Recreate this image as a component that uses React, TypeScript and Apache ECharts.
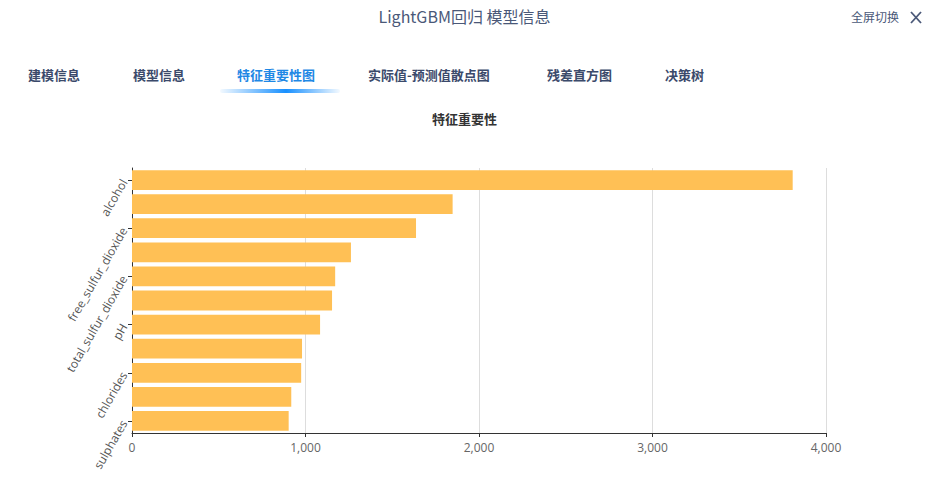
import React, { useEffect, useRef } from "react";
import * as echarts from "echarts";

// bottom-to-top order (category axis starts at bottom)
const features = [
  "sulphates",
  "citric_acid",
  "chlorides",
  "fixed_acidity",
  "pH",
  "density",
  "total_sulfur_dioxide",
  "residual_sugar",
  "free_sulfur_dioxide",
  "volatile_acidity",
  "alcohol",
];
const importance = [903, 918, 975, 980, 1084, 1153, 1171, 1262, 1637, 1848, 3808];

const tabs = ["建模信息", "模型信息", "特征重要性图", "实际值-预测值散点图", "残差直方图", "决策树"];
const tabX = [28, 133, 237, 368, 547, 665];
const activeTab = 2;

const FONT = "'Noto Sans CJK SC', 'Microsoft YaHei', sans-serif";
const LFONT = "'Open Sans', 'Noto Sans', sans-serif";

export default function App() {
  const ref = useRef<HTMLDivElement>(null);
  useEffect(() => {
    if (!ref.current) return;
    const chart = echarts.init(ref.current, undefined, { renderer: "svg" });
    const graphics: any[] = [
      {
        type: "text",
        left: "center",
        top: 8,
        style: { text: "LightGBM回归 模型信息", font: `16px ${FONT}`, fill: "#4a5878" },
      },
      {
        type: "text",
        x: 851,
        y: 10,
        style: { text: "全屏切换", font: `12px ${FONT}`, fill: "#4a5878" },
      },
      {
        type: "line",
        shape: { x1: 911, y1: 12, x2: 921, y2: 23 },
        style: { stroke: "#4a5878", lineWidth: 1.8 },
      },
      {
        type: "line",
        shape: { x1: 921, y1: 12, x2: 911, y2: 23 },
        style: { stroke: "#4a5878", lineWidth: 1.8 },
      },
      {
        type: "rect",
        shape: { x: 220, y: 89, width: 120, height: 4, r: 2 },
        style: {
          fill: new echarts.graphic.LinearGradient(0, 0, 1, 0, [
            { offset: 0, color: "rgba(24,144,255,0.05)" },
            { offset: 0.55, color: "rgba(24,144,255,1)" },
            { offset: 1, color: "rgba(24,144,255,0.05)" },
          ]),
        },
      },
      {
        type: "text",
        left: "center",
        top: 112,
        style: { text: "特征重要性", font: `bold 13px ${FONT}`, fill: "#333" },
      },
    ];
    tabs.forEach((t, i) => {
      graphics.push({
        type: "text",
        x: tabX[i],
        y: 68,
        style: {
          text: t,
          font: `bold 13px ${FONT}`,
          fill: i === activeTab ? "#1e88e5" : "#3b4a6b",
        },
      });
    });
    chart.setOption({
      animation: false,
      graphic: graphics,
      grid: { left: 132, right: 103, top: 168, bottom: 64, containLabel: false },
      xAxis: {
        type: "value",
        min: 0,
        max: 4000,
        interval: 1000,
        axisLine: { show: true, lineStyle: { color: "#333" } },
        axisTick: { show: true, length: 4, lineStyle: { color: "#333" } },
        axisLabel: { color: "#666", fontSize: 12, fontFamily: LFONT, margin: 8 },
        splitLine: { show: true, lineStyle: { color: "#ddd" } },
      },
      yAxis: {
        type: "category",
        data: features,
        axisLine: { show: true, lineStyle: { color: "#333" } },
        axisTick: { show: true, alignWithLabel: true, interval: 1, length: 4, lineStyle: { color: "#333" } },
        axisLabel: { interval: 1, rotate: 60, color: "#555", fontSize: 12, fontFamily: LFONT, margin: 8 },
        splitLine: { show: false },
      },
      series: [
        {
          type: "bar",
          data: importance,
          barCategoryGap: "18%",
          itemStyle: { color: "#ffc055" },
        },
      ],
    });
    return () => chart.dispose();
  }, []);
  return (
    <div
      ref={ref}
      style={{ position: "fixed", left: 0, top: 0, width: 929, height: 497, background: "#fff" }}
    />
  );
}
